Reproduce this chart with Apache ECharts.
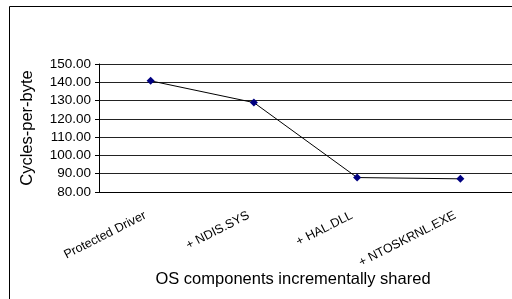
<!DOCTYPE html>
<html>
<head>
<meta charset="utf-8">
<script src="https://cdn.jsdelivr.net/npm/echarts@6/dist/echarts.min.js"></script>
<style>
  html, body { margin: 0; padding: 0; background: #fff; }
  #chart { width: 512px; height: 299px; }
</style>
</head>
<body>
<div id="chart"></div>
<script>
// OS components shared incrementally -> cycles per byte
const categories = ['Protected Driver', '+ NDIS.SYS', '+ HAL.DLL', '+ NTOSKRNL.EXE']
const cyclesPerByte = [140.8, 128.9, 87.9, 87.2]
const yMin = 80
const yMax = 150
const yStep = 10

const chart = echarts.init(document.getElementById('chart'), null, { renderer: 'canvas' })
const font = 'Liberation Sans, Arial, sans-serif'

chart.setOption({
  backgroundColor: '#fff',
  animation: false,
  title: [{
    text: 'OS components incrementally shared',
    left: 288, top: 266,
    textAlign: 'center',
    textStyle: { fontFamily: font, fontSize: 16.5, fontWeight: 'normal', color: '#000' },
  }],
  graphic: [{
    type: 'rect',
    shape: { x: 9.5, y: 6.5, width: 520, height: 310 },
    style: { fill: 'none', stroke: '#000', lineWidth: 1 },
    silent: true,
  }],
  grid: { left: 99, top: 64, width: 418, height: 128 },
  xAxis: {
    type: 'category',
    data: categories,
    boundaryGap: true,
    axisLine: { lineStyle: { color: '#000', width: 1 } },
    axisTick: { inside: true, length: 4, lineStyle: { color: '#000' } },
    axisLabel: { rotate: 27, margin: 20, padding: [0, 6, 0, 0], color: '#000', fontFamily: font, fontSize: 12.5, interval: 0 },
    splitLine: { show: false },
  },
  yAxis: {
    type: 'value',
    min: yMin, max: yMax, interval: yStep,
    name: 'Cycles-per-byte',
    nameLocation: 'middle',
    nameGap: 63,
    nameTextStyle: { fontFamily: font, fontSize: 16.5, color: '#000' },
    axisLine: { show: true, lineStyle: { color: '#000', width: 1 } },
    axisTick: { show: true, length: 4, lineStyle: { color: '#000' } },
    axisLabel: { color: '#000', fontFamily: font, fontSize: 13.5, margin: 8, formatter: v => v.toFixed(2) },
    splitLine: { lineStyle: { color: '#222', width: 1 } },
  },
  series: [{
    type: 'line',
    data: cyclesPerByte,
    symbol: 'diamond',
    symbolSize: 8,
    lineStyle: { color: '#000', width: 1 },
    itemStyle: { color: '#000080' },
  }],
})
</script>
</body>
</html>
